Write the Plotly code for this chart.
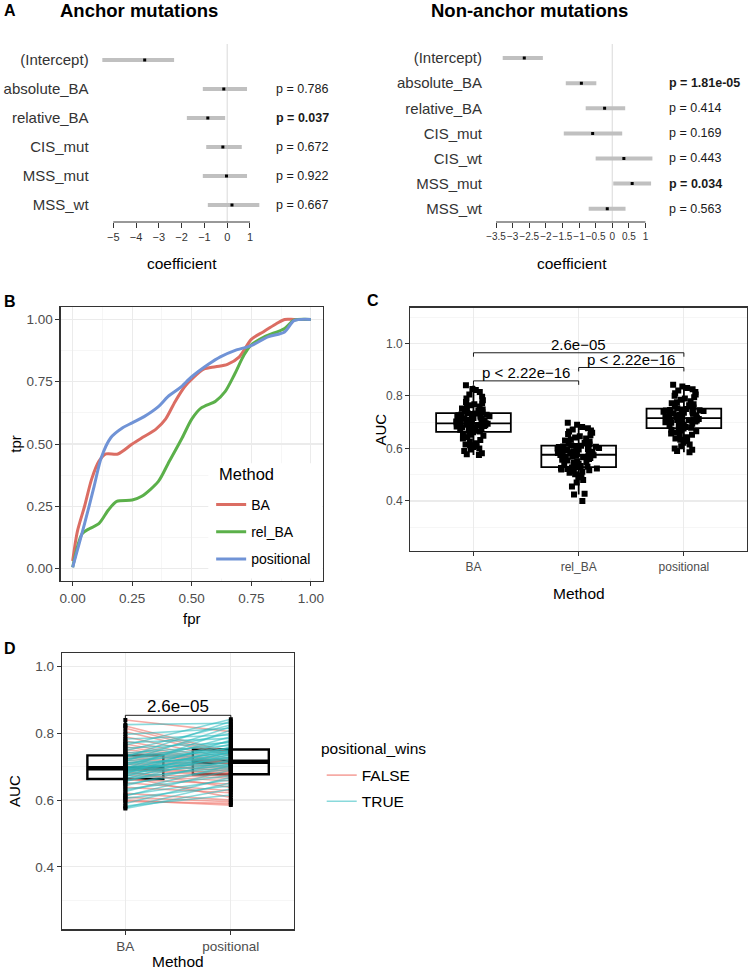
import numpy as np
import plotly.graph_objects as go

W, H = 749, 972
def fx(px): return px / W
def fy(py): return 1 - py / H

FONT = "Liberation Sans, Arial, Helvetica, sans-serif"

# ---------------- Panel A data ----------------
terms_anchor = ["(Intercept)", "absolute_BA", "relative_BA", "CIS_mut", "MSS_mut", "MSS_wt"]
est_anchor = [-3.62, -0.15, -0.85, -0.19, -0.03, 0.21]
lo_anchor = [-5.48, -1.07, -1.77, -0.92, -1.07, -0.85]
hi_anchor = [-2.33, 0.87, -0.09, 0.64, 0.87, 1.41]
p_anchor = [None, 0.786, 0.037, 0.672, 0.922, 0.667]
ticks_anchor = [-5, -4, -3, -2, -1, 0, 1]

terms_non = ["(Intercept)", "absolute_BA", "relative_BA", "CIS_mut", "CIS_wt", "MSS_mut", "MSS_wt"]
est_non = [-2.65, -0.93, -0.23, -0.59, 0.35, 0.60, -0.15]
lo_non = [-3.30, -1.40, -0.80, -1.46, -0.50, 0.03, -0.71]
hi_non = [-2.09, -0.48, 0.39, 0.30, 1.21, 1.17, 0.40]
p_non = [None, 1.81e-05, 0.414, 0.169, 0.443, 0.034, 0.563]
ticks_non = [-3.5, -3, -2.5, -2, -1.5, -1, -0.5, 0, 0.5, 1]

# ---------------- Panel B data (ROC) ----------------
fpr_ba = [0, 0.02, 0.05, 0.08, 0.11, 0.14, 0.19, 0.25, 0.30, 0.35, 0.39, 0.43, 0.47, 0.50,
          0.55, 0.60, 0.65, 0.70, 0.75, 0.80, 0.85, 0.89, 0.93, 1.0]
tpr_ba = [0.03, 0.15, 0.25, 0.36, 0.43, 0.46, 0.46, 0.50, 0.53, 0.56, 0.60, 0.67, 0.73, 0.76,
          0.80, 0.81, 0.82, 0.85, 0.92, 0.95, 0.98, 1.0, 1.0, 1.0]
fpr_rel = [0, 0.04, 0.07, 0.11, 0.15, 0.185, 0.25, 0.29, 0.36, 0.40, 0.46, 0.50, 0.54, 0.60,
           0.64, 0.68, 0.72, 0.75, 0.805, 0.89, 0.93, 1.0]
tpr_rel = [0.005, 0.14, 0.16, 0.18, 0.235, 0.27, 0.275, 0.29, 0.35, 0.42, 0.525, 0.60, 0.645, 0.672,
           0.71, 0.78, 0.858, 0.898, 0.93, 0.964, 0.997, 1.0]
fpr_pos = [0, 0.05, 0.09, 0.12, 0.16, 0.21, 0.25, 0.30, 0.36, 0.40, 0.45, 0.50, 0.57, 0.62,
           0.68, 0.75, 0.82, 0.89, 0.93, 1.0]
tpr_pos = [0.005, 0.18, 0.33, 0.445, 0.525, 0.565, 0.585, 0.61, 0.65, 0.69, 0.725, 0.77, 0.82, 0.85,
           0.875, 0.895, 0.93, 0.95, 0.995, 1.0]
methods = ["BA", "rel_BA", "positional"]
method_colors = ["#DB6D63", "#5BB04A", "#7093D6"]

# ---------------- Panels C / D data (AUC per run) ----------------
ba_auc = [0.575, 0.578, 0.582, 0.590, 0.596, 0.600, 0.605, 0.608, 0.612, 0.615,
          0.620, 0.626, 0.632, 0.638, 0.643, 0.648, 0.652, 0.656, 0.659, 0.662,
          0.664, 0.667, 0.669, 0.671, 0.673, 0.675, 0.677, 0.679, 0.681, 0.683,
          0.685, 0.686, 0.688, 0.689, 0.690, 0.691, 0.692, 0.693, 0.694, 0.695,
          0.696, 0.698, 0.700, 0.702, 0.704, 0.706, 0.708, 0.710, 0.712, 0.714,
          0.716, 0.718, 0.720, 0.722, 0.724, 0.726, 0.728, 0.730, 0.731, 0.733,
          0.735, 0.738, 0.741, 0.744, 0.748, 0.752, 0.756, 0.760, 0.764, 0.768,
          0.772, 0.777, 0.783, 0.790, 0.797, 0.805, 0.815, 0.822, 0.826, 0.840]
pos_auc = [0.633, 0.652, 0.615, 0.668, 0.590, 0.585, 0.643, 0.595, 0.690, 0.661,
           0.600, 0.704, 0.674, 0.622, 0.720, 0.694, 0.628, 0.738, 0.708, 0.648,
           0.745, 0.698, 0.608, 0.760, 0.714, 0.657, 0.728, 0.780, 0.665, 0.742,
           0.702, 0.638, 0.750, 0.716, 0.671, 0.768, 0.730, 0.676, 0.810, 0.722,
           0.682, 0.744, 0.706, 0.679, 0.790, 0.734, 0.688, 0.756, 0.726, 0.685,
           0.820, 0.740, 0.692, 0.776, 0.746, 0.696, 0.836, 0.748, 0.700, 0.800,
           0.753, 0.707, 0.764, 0.709, 0.825, 0.710, 0.772, 0.711, 0.842, 0.712,
           0.785, 0.718, 0.795, 0.724, 0.815, 0.732, 0.736, 0.743, 0.830, 0.805]
rel_auc = [0.400, 0.425, 0.428, 0.455, 0.470, 0.480, 0.490, 0.497, 0.502, 0.507,
           0.511, 0.514, 0.517, 0.520, 0.522, 0.524, 0.525, 0.526, 0.527, 0.528,
           0.530, 0.533, 0.536, 0.539, 0.542, 0.545, 0.548, 0.551, 0.554, 0.557,
           0.560, 0.562, 0.564, 0.566, 0.568, 0.569, 0.571, 0.572, 0.574, 0.575,
           0.577, 0.579, 0.581, 0.583, 0.585, 0.587, 0.589, 0.590, 0.592, 0.594,
           0.596, 0.598, 0.600, 0.602, 0.603, 0.605, 0.606, 0.607, 0.609, 0.610,
           0.612, 0.615, 0.618, 0.622, 0.626, 0.630, 0.634, 0.638, 0.642, 0.646,
           0.650, 0.655, 0.660, 0.664, 0.668, 0.672, 0.677, 0.682, 0.690, 0.698]

comparisons_c = [("BA", "positional"), ("rel_BA", "positional"), ("BA", "rel_BA")]
comp_labels_c = ["2.6e\u221205", "p < 2.22e\u221216", "p < 2.22e\u221216"]
comp_y_c = [0.964, 0.908, 0.857]
comp_label_d = "2.6e\u221205"
comp_y_d = 0.854
wins_labels = ["FALSE", "TRUE"]
wins_colors = ["rgba(240,120,110,0.62)", "rgba(40,185,190,0.55)"]

fig = go.Figure()

def ptxt(p):
    s = "p = " + (f"{p:.2e}" if p < 0.001 else f"{p:.3f}")
    return f"<b>{s}</b>" if p < 0.05 else s

annotations = []
shapes = []

# ---------------- Panel A ----------------
for terms, est, lo, hi, pv, xa, ya, px_p in [
        (terms_anchor, est_anchor, lo_anchor, hi_anchor, p_anchor, "x", "y", 273),
        (terms_non, est_non, lo_non, hi_non, p_non, "x2", "y2", 668)]:
    ys = list(range(len(terms)))
    fig.add_trace(go.Scatter(
        x=est, y=ys, mode="markers", xaxis=xa, yaxis=ya, showlegend=False, hoverinfo="skip",
        marker=dict(color="black", size=3, symbol="square"),
        error_x=dict(type="data", symmetric=False,
                     array=[h - e for h, e in zip(hi, est)],
                     arrayminus=[e - l for e, l in zip(est, lo)],
                     color="#C0C0C0", thickness=4, width=0)))
    for i, p in enumerate(pv):
        if p is None:
            continue
        annotations.append(dict(x=fx(px_p), xref="paper", y=i, yref=ya, xanchor="left",
                                yanchor="middle", text=ptxt(p), showarrow=False,
                                font=dict(size=12.5, color="#1a1a1a")))

shapes.append(dict(type="line", xref="x", yref="y domain", x0=0, x1=0, y0=0, y1=1,
                   line=dict(color="#D9D9D9", width=1), layer="below"))
shapes.append(dict(type="line", xref="x2", yref="y2 domain", x0=0, x1=0, y0=0, y1=1,
                   line=dict(color="#D9D9D9", width=1), layer="below"))
shapes.append(dict(type="line", xref="x", yref="y domain", x0=ticks_anchor[0], x1=ticks_anchor[-1],
                   y0=0, y1=0, line=dict(color="#333333", width=1)))
shapes.append(dict(type="line", xref="x2", yref="y2 domain", x0=ticks_non[0], x1=ticks_non[-1],
                   y0=0, y1=0, line=dict(color="#333333", width=1)))

# ---------------- Panel B ----------------
for m, c, fp, tp in zip(methods, method_colors, [fpr_ba, fpr_rel, fpr_pos], [tpr_ba, tpr_rel, tpr_pos]):
    fig.add_trace(go.Scatter(x=fp, y=tp, mode="lines", name=m, legendgroup=m, legend="legend",
                             line=dict(color=c, width=3, shape="spline", smoothing=0.8),
                             xaxis="x3", yaxis="y3", hoverinfo="skip"))
# legend background box (hides grid under the legend, as in ggplot)
shapes.append(dict(type="rect", xref="x3", yref="y3", x0=(207 - 70.7) / 239.3, x1=1.05,
                   y0=(570 - 580) / 250.7, y1=(570 - 464) / 250.7,
                   fillcolor="white", line=dict(width=0), layer="between"))

# ---------------- Panel C ----------------
for m, vals in zip(methods, [ba_auc, rel_auc, pos_auc]):
    fig.add_trace(go.Box(x=[m] * len(vals), y=vals, name=m, xaxis="x4", yaxis="y4",
                         boxpoints="all", jitter=0.6, pointpos=0, width=0.71, whiskerwidth=0,
                         fillcolor="rgba(0,0,0,0)", line=dict(color="black", width=1.8),
                         marker=dict(color="black", size=6, symbol="square"),
                         showlegend=False, hoverinfo="skip"))
cat_c = {m: i for i, m in enumerate(methods)}
for (a, b), lab, yv in zip(comparisons_c, comp_labels_c, comp_y_c):
    ia, ib = cat_c[a], cat_c[b]
    for x0, y0, x1, y1 in [(ia, yv, ib, yv), (ia, yv, ia, yv - 0.015), (ib, yv, ib, yv - 0.015)]:
        shapes.append(dict(type="line", xref="x4", yref="y4", x0=x0, y0=y0, x1=x1, y1=y1,
                           line=dict(color="black", width=0.9)))
    annotations.append(dict(x=(ia + ib) / 2, y=yv, xref="x4", yref="y4", text=lab, showarrow=False,
                            yanchor="middle", yshift=8, font=dict(size=15, color="black")))

# ---------------- Panel D ----------------
cats_d = ["BA", "positional"]
for m, vals in zip(cats_d, [ba_auc, pos_auc]):
    fig.add_trace(go.Box(x=[m] * len(vals), y=vals, name=m, xaxis="x5", yaxis="y5",
                         boxpoints=False, width=0.72, whiskerwidth=0,
                         fillcolor="rgba(0,0,0,0)", line=dict(color="black", width=2.4),
                         showlegend=False, hoverinfo="skip"))
    i = cats_d.index(m)
    med = float(np.median(vals))
    shapes.append(dict(type="line", xref="x5", yref="y5", x0=i - 0.36, x1=i + 0.36, y0=med, y1=med,
                       line=dict(color="black", width=4.5), layer="between"))

seg = {lab: ([], []) for lab in wins_labels}
for b, p in zip(ba_auc, pos_auc):
    lab = "TRUE" if p > b else "FALSE"
    seg[lab][0].extend(["BA", "positional", None])
    seg[lab][1].extend([b, p, None])
for lab, col in zip(wins_labels, wins_colors):
    fig.add_trace(go.Scatter(x=seg[lab][0], y=seg[lab][1], mode="lines", name=lab,
                             legendgroup="w" + lab, legend="legend2",
                             line=dict(color=col, width=1.6), xaxis="x5", yaxis="y5",
                             hoverinfo="skip"))
for m, vals in zip(cats_d, [ba_auc, pos_auc]):
    fig.add_trace(go.Scatter(x=[m] * len(vals), y=vals, mode="markers", xaxis="x5", yaxis="y5",
                             marker=dict(color="black", size=4, symbol="square"),
                             showlegend=False, hoverinfo="skip"))
shapes.append(dict(type="line", xref="x5", yref="y5", x0=0, x1=1, y0=comp_y_d, y1=comp_y_d,
                   line=dict(color="black", width=0.9)))
for xi in (0, 1):
    shapes.append(dict(type="line", xref="x5", yref="y5", x0=xi, x1=xi, y0=comp_y_d, y1=comp_y_d - 0.012,
                       line=dict(color="black", width=0.9)))
annotations.append(dict(x=0.5, y=comp_y_d, xref="x5", yref="y5", text=comp_label_d, showarrow=False,
                        yanchor="middle", yshift=8.5, font=dict(size=17, color="black")))

# ---------------- Text labels ----------------
def txt(x, y, t, size, bold=False, angle=0, anchor="center", color="black"):
    annotations.append(dict(x=fx(x), y=fy(y), xref="paper", yref="paper", showarrow=False,
                            text=f"<b>{t}</b>" if bold else t, textangle=angle,
                            xanchor=anchor, yanchor="middle", font=dict(size=size, color=color)))

txt(0, 10, "A", 16, bold=True, anchor="left")
txt(138, 10.5, "Anchor mutations", 18.5, bold=True)
txt(530, 11, "Non-anchor mutations", 18.5, bold=True)
txt(181, 263, "coefficient", 15.5)
txt(572, 263, "coefficient", 15.5)
txt(0, 301, "B", 16, bold=True, anchor="left")
txt(364, 300, "C", 16, bold=True, anchor="left")
txt(0, 648, "D", 16, bold=True, anchor="left")
txt(12.7, 444, "tpr", 15, angle=-90)
txt(190.5, 618, "fpr", 15)
txt(381, 429, "AUC", 15, angle=-90)
txt(579, 593, "Method", 15.5)
txt(12, 791, "AUC", 15, angle=-90)
txt(176.8, 961.5, "Method", 15.5)
txt(216, 474, "Method", 16.5, anchor="left")          # legend title (panel B)
txt(318, 748, "positional_wins", 15.5, anchor="left")  # legend title (panel D)

# ---------------- Axes ----------------
frame = dict(showline=True, mirror=True, linecolor="#333333", linewidth=1.3, zeroline=False,
             showgrid=True, gridcolor="#EBEBEB", gridwidth=1.2, ticks="outside", ticklen=4,
             tickcolor="#333333", tickwidth=1)

layout_axes = dict(
    xaxis=dict(domain=[fx(93), fx(265)], range=[(93 - 226.1) / 22.88, (265 - 226.1) / 22.88],
               anchor="y", showgrid=False, zeroline=False, showline=False, ticks="outside",
               ticklen=5, tickcolor="#333333", tickvals=ticks_anchor, tickangle=0,
               tickfont=dict(size=11, color="#333333")),
    yaxis=dict(domain=[fy(222), fy(44)], range=[len(terms_anchor) - 0.41, -0.55], anchor="x",
               showgrid=False, zeroline=False, showline=False, ticks="",
               tickvals=list(range(len(terms_anchor))), ticktext=terms_anchor,
               ticklabelstandoff=5, tickfont=dict(size=15, color="#333333")),
    xaxis2=dict(domain=[fx(488), fx(660)], range=[(488 - 612.7) / 33.33, (660 - 612.7) / 33.33],
                anchor="y2", showgrid=False, zeroline=False, showline=False, ticks="outside",
                ticklen=5, tickcolor="#333333", tickvals=ticks_non, tickangle=0,
                tickfont=dict(size=10, color="#333333")),
    yaxis2=dict(domain=[fy(222), fy(44)], range=[len(terms_non) - 0.47, -0.56], anchor="x2",
                showgrid=False, zeroline=False, showline=False, ticks="",
                tickvals=list(range(len(terms_non))), ticktext=terms_non,
                ticklabelstandoff=5, tickfont=dict(size=15, color="#333333")),
    xaxis3=dict(frame, domain=[fx(59), fx(322)], range=[-0.05, 1.05], anchor="y3",
                tickvals=[0, 0.25, 0.5, 0.75, 1], tickformat=".2f",
                minor=dict(tickvals=[0.125, 0.375, 0.625, 0.875], showgrid=True,
                           gridcolor="#F2F2F2", gridwidth=0.7, ticks=""),
                tickfont=dict(size=13.5, color="#4D4D4D")),
    yaxis3=dict(frame, domain=[fy(581), fy(307)], range=[-0.05, 1.05], anchor="x3",
                tickvals=[0, 0.25, 0.5, 0.75, 1], tickformat=".2f",
                minor=dict(tickvals=[0.125, 0.375, 0.625, 0.875], showgrid=True,
                           gridcolor="#F2F2F2", gridwidth=0.7, ticks=""),
                tickfont=dict(size=13.5, color="#4D4D4D")),
    xaxis4=dict(frame, domain=[fx(410), fx(748)], type="category", categoryorder="array",
                categoryarray=methods, range=[-0.6, 2.6], anchor="y4",
                tickfont=dict(size=12, color="#4D4D4D")),
    yaxis4=dict(frame, domain=[fy(551), fy(307.7)], range=[0.2097, 1.1355], anchor="x4",
                tickvals=[0.4, 0.6, 0.8, 1.0], tickformat=".1f",
                minor=dict(tickvals=[0.3, 0.5, 0.7, 0.9, 1.1], showgrid=True,
                           gridcolor="#F2F2F2", gridwidth=0.7, ticks=""),
                tickfont=dict(size=12, color="#4D4D4D")),
    xaxis5=dict(frame, domain=[fx(60.3), fx(293.3)], type="category", categoryorder="array",
                categoryarray=cats_d, range=[-0.6, 1.6], anchor="y5",
                tickfont=dict(size=13.5, color="#4D4D4D")),
    yaxis5=dict(frame, domain=[fy(929.3), fy(653.3)], range=[0.2128, 1.0398], anchor="x5",
                tickvals=[0.4, 0.6, 0.8, 1.0], tickformat=".1f",
                minor=dict(tickvals=[0.3, 0.5, 0.7, 0.9], showgrid=True,
                           gridcolor="#F2F2F2", gridwidth=0.7, ticks=""),
                tickfont=dict(size=13.5, color="#4D4D4D")),
)

fig.update_layout(
    width=W, height=H, margin=dict(l=0, r=0, t=0, b=0), autosize=False,
    paper_bgcolor="white", plot_bgcolor="white", hovermode=False,
    font=dict(family=FONT, color="black"),
    showlegend=True,
    legend=dict(x=fx(210), y=fy(489), xanchor="left", yanchor="top", bgcolor="rgba(0,0,0,0)",
                borderwidth=0, tracegroupgap=6, itemwidth=30,
                font=dict(size=14, color="black")),
    legend2=dict(x=fx(321), y=fy(758.5), xanchor="left", yanchor="top", bgcolor="rgba(0,0,0,0)",
                 borderwidth=0, tracegroupgap=3, itemwidth=30,
                 font=dict(size=15.5, color="black")),
    annotations=annotations, shapes=shapes,
    **layout_axes,
)

fig.write_html("out.html", config={"displayModeBar": False, "staticPlot": True},
               post_script="document.body.style.margin='0px';document.body.style.overflow='hidden';")
